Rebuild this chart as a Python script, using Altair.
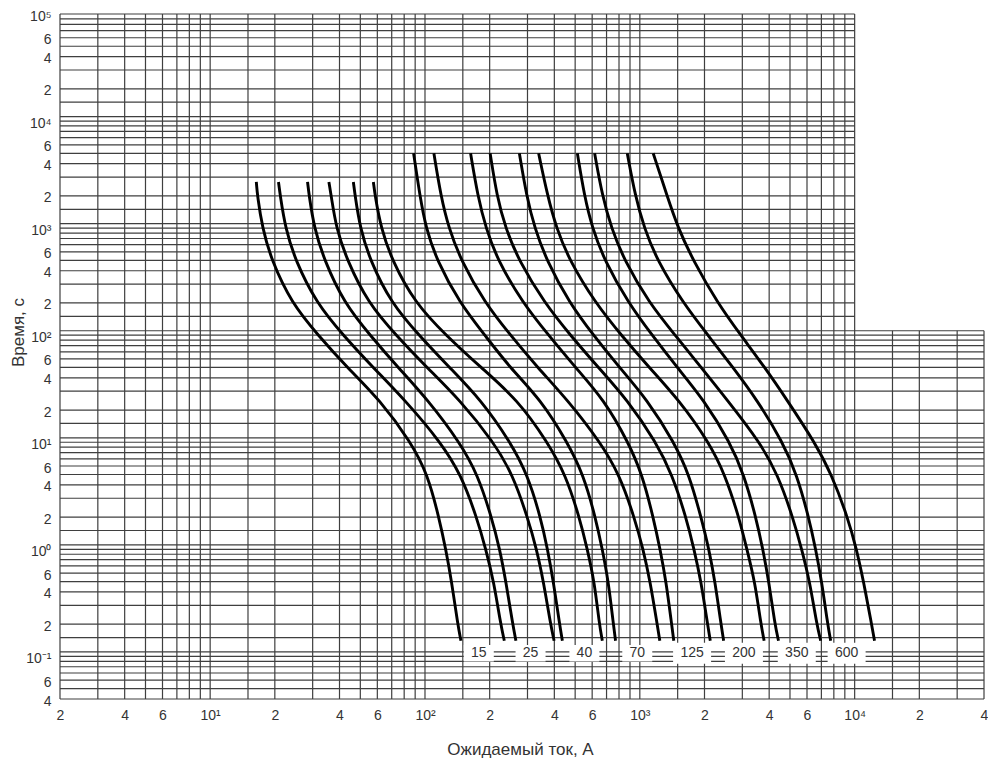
import altair as alt
import pandas as pd

# ---------------- axis ranges / grid definition ----------------
X_MIN, X_MAX = 2, 40000
Y_MIN, Y_MAX = 0.04, 100000
X_DECADES = [1, 10, 100, 1000, 10000]
X_GRID_MULT = [1, 1.5, 2, 3, 4, 5, 6, 7, 8, 9]
Y_DECADES = [0.01, 0.1, 1, 10, 100, 1000, 10000, 100000]
Y_GRID_MULT = [1, 1.1, 1.5, 2, 3, 4, 5, 6, 7, 8, 9]
STEP_X = 10000   # grid above STEP_Y stops at this current
STEP_Y = 110     # grid right of STEP_X stops at this time

X_TICKS = [2, 4, 6, 10, 20, 40, 60, 100, 200, 400, 600, 1000, 2000, 4000, 6000,
           10000, 20000, 40000]
X_TICK_LABELS = ["2", "4", "6", "10¹", "2", "4", "6", "10²", "2", "4", "6", "10³",
                 "2", "4", "6", "10⁴", "2", "4"]
Y_TICKS = [0.04, 0.06, 0.1, 0.2, 0.4, 0.6, 1, 2, 4, 6, 10, 20, 40, 60, 100, 200,
           400, 600, 1000, 2000, 4000, 6000, 10000, 20000, 40000, 60000, 100000]
Y_TICK_LABELS = ["4", "6", "10⁻¹", "2", "4", "6", "10⁰", "2", "4", "6", "10¹",
                 "2", "4", "6", "10²", "2", "4", "6", "10³", "2", "4", "6", "10⁴",
                 "2", "4", "6", "10⁵"]

# ---------------- curve data (time in s, current in A) ----------------
TIMES_A = [2700, 2000, 1000, 500, 200, 100, 50, 25, 10, 5, 2, 1, 0.5, 0.2, 0.14]
TIMES_B = [5000, 2000, 1000, 500, 200, 100, 50, 25, 10, 5, 2, 1, 0.5, 0.2, 0.14]

I_C1 = [16.4, 16.6, 17.5, 19.3, 23.9, 31.8, 43.4, 61.6, 86.0, 103, 116, 125, 133, 142, 147]
I_C2 = [20.8, 21.2, 22.4, 24.9, 31.2, 41.6, 57.3, 80.4, 118.5, 147, 174, 192, 209, 225, 234]
I_C3 = [28.4, 28.9, 30.5, 34.0, 42.0, 55.5, 74.9, 103, 145, 176, 204, 223, 238, 256, 265]
I_C4 = [35.7, 36.6, 38.6, 43.4, 54.3, 73.3, 102, 145, 209, 256, 300, 331, 356, 384, 399]
I_C5 = [46.4, 47.3, 49.9, 55.5, 69.5, 93.7, 130, 182, 250, 300, 345, 372, 396, 423, 436]
I_C6 = [57.5, 58.6, 62.4, 70.2, 89.8, 125, 182, 270, 372, 451, 523, 570, 614, 648, 669]
I_C7 = [88.5, 94.7, 101, 113.5, 145, 190, 248, 346, 460, 546, 621, 669, 714, 753, 771]
I_C8 = [110, 118.5, 129, 147, 190, 250, 334, 460, 655, 803, 942, 1037, 1117, 1204, 1239]
I_C9 = [163, 176, 192, 218, 285, 376, 501, 681, 884, 1026, 1154, 1243, 1325, 1406, 1439]
I_C10 = [201, 216, 237, 273, 360, 475, 641, 874, 1191, 1414, 1641, 1789, 1928, 2066, 2128]
I_C11 = [275, 297, 324, 368, 470, 608, 803, 1082, 1444, 1696, 1928, 2099, 2238, 2387, 2456]
I_C12 = [338, 372, 409, 470, 621, 820, 1105, 1518, 2099, 2491, 2893, 3151, 3432, 3660, 3790]
I_C13 = [512, 552, 601, 684, 884, 1141, 1491, 1983, 2628, 3052, 3469, 3739, 3986, 4250, 4421]
I_C14 = [616, 669, 737, 847, 1105, 1460, 1928, 2545, 3621, 4388, 5152, 5672, 6178, 6658, 6949]
I_C15 = [874, 952, 1048, 1204, 1590, 2077, 2713, 3507, 4629, 5377, 6112, 6587, 7024, 7488, 7733]
I_C16 = [1154, 1340, 1507, 1770, 2300, 2950, 3820, 4832, 6517, 7816, 9272, 10209, 11001, 11984, 12373]

GROUP_A = [I_C1, I_C2, I_C3, I_C4, I_C5, I_C6]
GROUP_B = [I_C7, I_C8, I_C9, I_C10, I_C11, I_C12, I_C13, I_C14, I_C15, I_C16]

# rating labels at the foot of the curves
LABELS = ["15", "25", "40", "70", "125", "200", "350", "600"]
LABEL_CURRENT = [178, 310, 552, 973, 1751, 3052, 5377, 9174]
LABEL_TIME = 0.107

# ---------------- build tables ----------------
def grid_values(decades, mults, lo, hi):
    vals = set()
    for d in decades:
        for m in mults:
            v = round(d * m, 8)
            if lo <= v <= hi:
                vals.add(v)
    return sorted(vals)

xg = grid_values(X_DECADES, X_GRID_MULT, X_MIN, X_MAX)
yg = grid_values(Y_DECADES, Y_GRID_MULT, Y_MIN, Y_MAX)

vdf = pd.DataFrame({
    "x": xg,
    "y1": [Y_MIN] * len(xg),
    "y2": [Y_MAX if v <= STEP_X else STEP_Y for v in xg],
})
hdf = pd.DataFrame({
    "y": yg,
    "x1": [X_MIN] * len(yg),
    "x2": [X_MAX if v <= STEP_Y else STEP_X for v in yg],
})

rows = []
for k, cur in enumerate(GROUP_A):
    for t, i in zip(TIMES_A, cur):
        rows.append({"curve": f"A{k}", "current": i, "time": t})
for k, cur in enumerate(GROUP_B):
    for t, i in zip(TIMES_B, cur):
        rows.append({"curve": f"B{k}", "current": i, "time": t})
cdf = pd.DataFrame(rows)

ldf = pd.DataFrame({"label": LABELS, "current": LABEL_CURRENT,
                    "time": [LABEL_TIME] * len(LABELS)})


def label_expr(ticks, labels):
    expr = "''"
    for t, l in reversed(list(zip(ticks, labels))):
        expr = f"datum.value == {t!r} ? '{l}' : ({expr})"
    return expr


FONT = "Liberation Sans"
TXT = "#333333"
GRID = "#3f3f3f"

xs = alt.Scale(type="log", domain=[X_MIN, X_MAX], nice=False)
ys = alt.Scale(type="log", domain=[Y_MIN, Y_MAX], nice=False)

x_axis = alt.Axis(values=X_TICKS, labelExpr=label_expr(X_TICKS, X_TICK_LABELS),
                  title="Ожидаемый ток, А", grid=False, ticks=False, domain=False,
                  labelFont=FONT, labelFontSize=14, labelColor=TXT, labelPadding=9,
                  labelBaseline="top", labelFlush=False, labelOverlap=False,
                  titleFont=FONT, titleFontSize=17, titleFontWeight="normal",
                  titleColor=TXT, titleX=460, titleY=50, titleBaseline="middle",
                  titleAlign="center")
y_axis = alt.Axis(values=Y_TICKS, labelExpr=label_expr(Y_TICKS, Y_TICK_LABELS),
                  title="Время, с", grid=False, ticks=False, domain=False,
                  labelFont=FONT, labelFontSize=14, labelColor=TXT, labelPadding=9,
                  labelBaseline="middle", labelOffset=2, labelFlush=False,
                  labelOverlap=False,
                  titleFont=FONT, titleFontSize=17, titleFontWeight="normal",
                  titleColor=TXT, titleAngle=270, titleX=-42, titleY=318,
                  titleBaseline="middle", titleAlign="center")

vgrid = alt.Chart(vdf).mark_rule(color=GRID, strokeWidth=1.2).encode(
    x=alt.X("x:Q", scale=xs, axis=x_axis),
    y=alt.Y("y1:Q", scale=ys, axis=y_axis),
    y2="y2:Q",
)
hgrid = alt.Chart(hdf).mark_rule(color=GRID, strokeWidth=1.2).encode(
    y=alt.Y("y:Q", scale=ys, axis=y_axis),
    x=alt.X("x1:Q", scale=xs, axis=x_axis),
    x2="x2:Q",
)
curves = alt.Chart(cdf).mark_line(color="black", strokeWidth=2.9,
                                  interpolate="basis").encode(
    x=alt.X("current:Q", scale=xs, axis=x_axis),
    y=alt.Y("time:Q", scale=ys, axis=y_axis),
    detail="curve:N",
)
boxes = alt.Chart(ldf).transform_calculate(
    boxsize="pow(length(datum.label) * 8 + 14, 2)"
).mark_point(shape="M-1,-0.55L1,-0.55L1,0.55L-1,0.55Z", filled=True,
             color="white", opacity=1, strokeWidth=0).encode(
    x=alt.X("current:Q", scale=xs, axis=x_axis),
    y=alt.Y("time:Q", scale=ys, axis=y_axis),
    size=alt.Size("boxsize:Q", scale=None, legend=None),
)
texts = alt.Chart(ldf).mark_text(font=FONT, fontSize=14, color=TXT).encode(
    x=alt.X("current:Q", scale=xs, axis=x_axis),
    y=alt.Y("time:Q", scale=ys, axis=y_axis),
    text="label:N",
)

chart = alt.layer(vgrid, hgrid, curves, boxes, texts).properties(
    width=924, height=685,
    autosize=alt.AutoSizeParams(type="none"),
    padding={"left": 52, "top": 6, "right": 4, "bottom": 62},
    background="white",
).configure_view(stroke=None)

chart.save("out.html", embed_options={"renderer": "svg", "actions": False})
